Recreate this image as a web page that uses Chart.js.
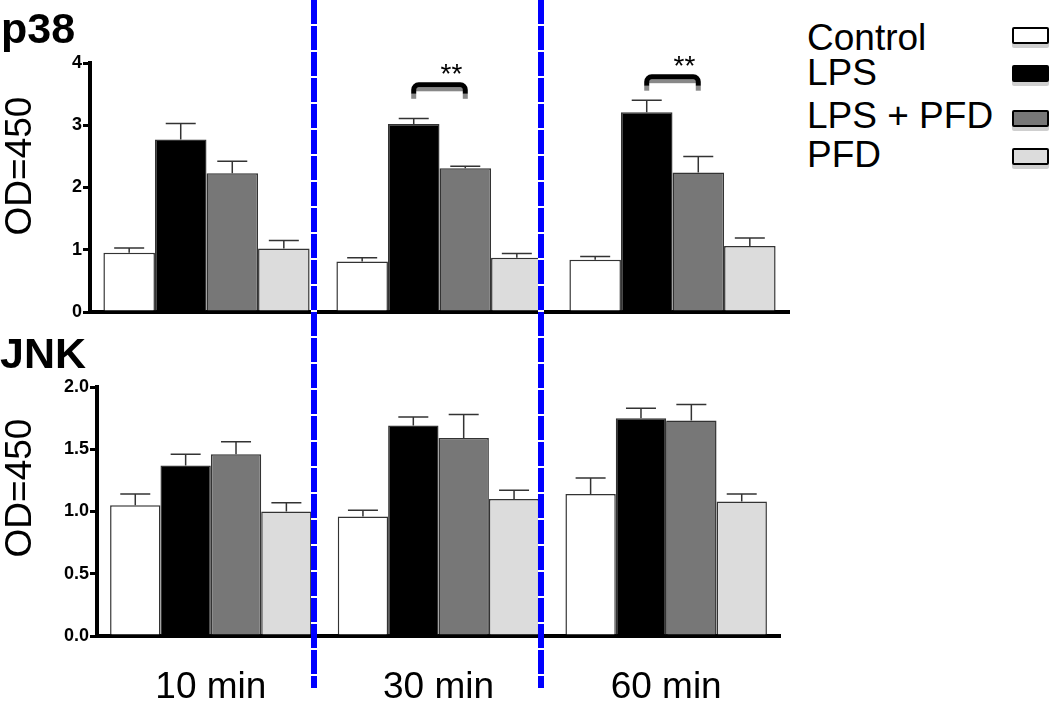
<!DOCTYPE html>
<html>
<head>
<meta charset="utf-8">
<script src="https://cdn.jsdelivr.net/npm/chart.js@4.4.1/dist/chart.umd.min.js"></script>
<style>
  body { margin: 0; background: #fff; width: 1050px; height: 703px; overflow: hidden; position: relative; font-family: "Liberation Sans", Arial, sans-serif; }
  #topWrap { position: absolute; left: 0; top: 0; width: 800px; height: 330px; }
  #botWrap { position: absolute; left: 0; top: 330px; width: 800px; height: 373px; }
  .vline { position: absolute; top: 0; width: 6px; height: 688px; background: repeating-linear-gradient(to bottom, #0000ff 0 24px, #ffffff 24px 26px); }
  .leg-text { position: absolute; left: 807px; font-size: 37px; line-height: 1; color: #000; white-space: nowrap; }
  .leg-box { position: absolute; left: 1012px; width: 33px; height: 13px; border: 2px solid #000; border-radius: 2px; box-shadow: 0 4px 0 #cfcfcf; }
</style>
</head>
<body>
<div id="topWrap"><canvas id="p38Chart"></canvas></div>
<div id="botWrap"><canvas id="jnkChart"></canvas></div>
<div class="vline" style="left:311px"></div>
<div class="vline" style="left:538px"></div>
<div id="legend"></div>
<script>
const timeLabels = ["10 min", "30 min", "60 min"];
const seriesLabels = ["Control", "LPS", "LPS + PFD", "PFD"];
const seriesColors = ["#ffffff", "#000000", "#777777", "#dcdcdc"];

// p38 panel (means, SEM)
const p38Control = [0.95, 0.81, 0.84];
const p38LPS = [2.77, 3.02, 3.21];
const p38LPSPFD = [2.23, 2.31, 2.24];
const p38PFD = [1.02, 0.87, 1.06];
const p38ControlErr = [0.08, 0.06, 0.05];
const p38LPSErr = [0.26, 0.09, 0.19];
const p38LPSPFDErr = [0.19, 0.03, 0.26];
const p38PFDErr = [0.13, 0.07, 0.13];
const p38Ticks = [0, 1, 2, 3, 4];

// JNK panel (means, SEM)
const jnkControl = [1.05, 0.96, 1.14];
const jnkLPS = [1.37, 1.69, 1.75];
const jnkLPSPFD = [1.46, 1.59, 1.73];
const jnkPFD = [1.00, 1.10, 1.08];
const jnkControlErr = [0.09, 0.05, 0.13];
const jnkLPSErr = [0.09, 0.07, 0.08];
const jnkLPSPFDErr = [0.10, 0.19, 0.13];
const jnkPFDErr = [0.07, 0.07, 0.06];
const jnkTicks = [0, 0.5, 1.0, 1.5, 2.0];

// significance: LPS vs LPS + PFD
const sigGroups = [1, 2];
const sigHeights = [3.65, 3.78];
const sigText = "**";

const FONT = '"Liberation Sans", Arial, sans-serif';

function makeSets(vals, errs) {
  return vals.map((v, i) => ({
    label: seriesLabels[i],
    data: v,
    sem: errs[i],
    backgroundColor: seriesColors[i],
    borderColor: "#333",
    borderWidth: 1.5,
    barPercentage: 1,
    categoryPercentage: 0.885,
  }));
}

const errorBars = {
  id: "errorBars",
  afterDatasetsDraw(chart) {
    const ctx = chart.ctx,
      y = chart.scales.y;
    ctx.save();
    ctx.strokeStyle = "#333";
    ctx.lineWidth = 1.5;
    chart.data.datasets.forEach((ds, di) => {
      chart.getDatasetMeta(di).data.forEach((bar, i) => {
        const top = y.getPixelForValue(ds.data[i] + ds.sem[i]);
        ctx.beginPath();
        ctx.moveTo(bar.x, bar.y);
        ctx.lineTo(bar.x, top);
        ctx.moveTo(bar.x - 15, top);
        ctx.lineTo(bar.x + 15, top);
        ctx.stroke();
      });
    });
    ctx.restore();
  },
};

const panelText = {
  id: "panelText",
  afterDraw(chart, args, o) {
    const ctx = chart.ctx;
    ctx.save();
    ctx.fillStyle = "#000";
    ctx.font = "bold 43px " + FONT;
    ctx.textBaseline = "alphabetic";
    ctx.textAlign = "left";
    ctx.fillText(o.title, o.titleX, o.titleY);
    ctx.translate(o.labelX, o.labelY);
    ctx.rotate(-Math.PI / 2);
    ctx.font = "37px " + FONT;
    ctx.textAlign = "center";
    ctx.textBaseline = "middle";
    ctx.fillText(o.label, 0, 0);
    ctx.restore();
  },
};

const sigBrackets = {
  id: "sigBrackets",
  afterDatasetsDraw(chart, args, o) {
    if (!o.groups) return;
    const ctx = chart.ctx,
      ys = chart.scales.y;
    ctx.save();
    o.groups.forEach((g, k) => {
      const x1 = chart.getDatasetMeta(1).data[g].x,
        x2 = chart.getDatasetMeta(2).data[g].x,
        y = ys.getPixelForValue(o.heights[k]);
      ctx.fillStyle = "#888";
      ctx.fillRect(x1 + 2, y + 2.5, x2 - x1 - 4, 4);
      ctx.fillRect(x1 - 2.5, y + 9, 5, 5);
      ctx.fillRect(x2 - 2.5, y + 9, 5, 5);
      ctx.strokeStyle = "#000";
      ctx.lineWidth = 5;
      ctx.beginPath();
      ctx.moveTo(x1, y + 9);
      ctx.arcTo(x1, y, x1 + 6, y, 5);
      ctx.arcTo(x2, y, x2, y + 9, 5);
      ctx.lineTo(x2, y + 9);
      ctx.stroke();
      ctx.fillStyle = "#000";
      ctx.font = "28px " + FONT;
      ctx.textAlign = "center";
      ctx.textBaseline = "alphabetic";
      ctx.fillText(o.text, (x1 + x2) / 2 + 12, y - 2);
    });
    ctx.restore();
  },
};

function makeChart(id, sets, ticks, cfg) {
  return new Chart(document.getElementById(id), {
    type: "bar",
    data: { labels: timeLabels, datasets: sets },
    plugins: [errorBars, panelText, sigBrackets],
    options: {
      responsive: true,
      maintainAspectRatio: false,
      animation: false,
      layout: { padding: cfg.padding },
      plugins: {
        legend: { display: false },
        tooltip: { enabled: false },
        panelText: cfg.text,
        sigBrackets: cfg.sig || {},
      },
      scales: {
        x: {
          grid: { display: false, drawTicks: false },
          border: { display: true, color: "#000", width: 4 },
          ticks: {
            display: cfg.showX,
            color: "#000",
            padding: 30,
            font: { family: FONT, size: 37 },
          },
          afterFit: (s) => { s.height = cfg.xHeight; },
        },
        y: {
          min: ticks[0],
          max: ticks[ticks.length - 1],
          afterBuildTicks: (s) => { s.ticks = ticks.map((v) => ({ value: v })); },
          grid: { drawOnChartArea: false, drawTicks: true, tickLength: 7, color: "#000", lineWidth: 3 },
          border: { display: true, color: "#000", width: 4 },
          ticks: {
            color: "#000",
            padding: 1,
            font: { family: FONT, size: 18, weight: "bold" },
            callback: cfg.fmt,
          },
          afterFit: (s) => { s.width = cfg.yWidth; },
        },
      },
    },
  });
}

makeChart(
  "p38Chart",
  makeSets([p38Control, p38LPS, p38LPSPFD, p38PFD], [p38ControlErr, p38LPSErr, p38LPSPFDErr, p38PFDErr]),
  p38Ticks,
  {
    padding: { top: 63, right: 11, left: 0, bottom: 0 },
    xHeight: 18,
    yWidth: 90,
    showX: false,
    fmt: (v) => String(v),
    text: { title: "p38", titleX: 1, titleY: 43, label: "OD=450", labelX: 21, labelY: 166 },
    sig: { groups: sigGroups, heights: sigHeights, text: sigText },
  }
);

makeChart(
  "jnkChart",
  makeSets([jnkControl, jnkLPS, jnkLPSPFD, jnkPFD], [jnkControlErr, jnkLPSErr, jnkLPSPFDErr, jnkPFDErr]),
  jnkTicks,
  {
    padding: { top: 57, right: 20, left: 0, bottom: 0 },
    xHeight: 67,
    yWidth: 97,
    showX: true,
    fmt: (v) => v.toFixed(1),
    text: { title: "JNK", titleX: 0, titleY: 38, label: "OD=450", labelX: 21, labelY: 158 },
  }
);

// legend: text on the left, swatch on the right
const legTops = [19, 54, 97, 136],
  boxTops = [27, 65, 110, 148];
document.getElementById("legend").innerHTML = seriesLabels
  .map(
    (l, i) =>
      `<div class="leg-text" style="top:${legTops[i]}px">${l}</div><div class="leg-box" style="top:${boxTops[i]}px;background:${seriesColors[i]}"></div>`
  )
  .join("");
</script>
</body>
</html>
